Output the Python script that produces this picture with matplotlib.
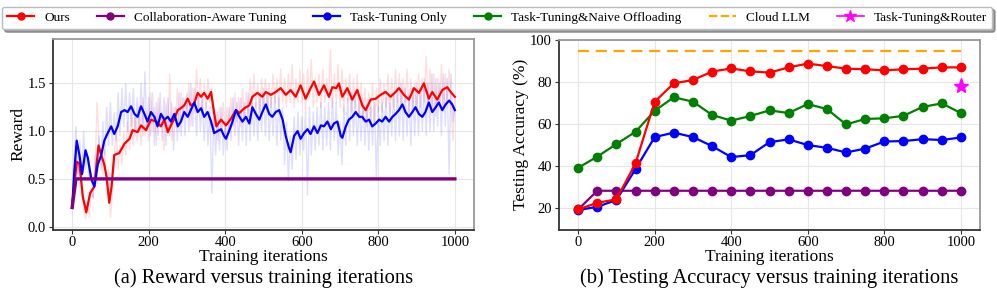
import numpy as np
import matplotlib
matplotlib.use("Agg")
import matplotlib.pyplot as plt
from matplotlib.lines import Line2D

plt.rcParams["font.family"] = ["Liberation Serif", "DejaVu Serif"]

# ---------------- (a) reward data ----------------
raw_x = list(range(0, 1001, 5))

ours_raw = [0.20, 0.45, 0.75, 0.55, 0.70, 0.40, 0.20, 0.08, 0.25, 0.10,
            0.40, 0.30, 0.55, 1.30, 0.90, 0.75, 0.55, 0.80, 0.45, 0.60,
            0.10, 0.35, 0.70, 1.05, 0.60, 0.85, 0.65, 1.00, 0.75, 1.10,
            0.80, 1.20, 0.85, 1.15, 0.90, 1.25, 0.85, 1.35, 0.95, 1.15,
            0.90, 1.40, 1.00, 1.25, 0.85, 1.35, 1.05, 1.20, 0.80, 1.30,
            0.95, 1.60, 0.90, 1.25, 1.10, 1.45, 1.00, 1.40, 1.15, 1.35,
            1.20, 1.50, 1.05, 1.45, 1.20, 1.65, 1.25, 1.55, 1.20, 1.50,
            1.25, 1.55, 1.30, 1.45, 0.95, 1.20, 0.90, 1.25, 1.00, 1.30,
            0.95, 1.25, 1.00, 1.35, 1.05, 1.40, 1.10, 1.35, 1.05, 1.45,
            1.10, 1.40, 1.15, 1.55, 1.20, 1.60, 1.25, 1.50, 1.20, 1.55,
            1.25, 1.55, 1.20, 1.50, 1.25, 1.60, 1.30, 1.55, 1.25, 1.65,
            1.30, 1.55, 1.25, 1.60, 1.30, 1.70, 1.25, 1.55, 1.30, 1.65,
            1.30, 1.60, 1.20, 1.65, 1.35, 1.75, 1.25, 1.55, 1.30, 1.60,
            1.25, 1.65, 1.30, 1.55, 1.35, 1.85, 1.25, 1.60, 1.30, 1.70,
            1.25, 1.65, 1.20, 1.55, 1.30, 1.60, 1.20, 1.55, 1.25, 1.60,
            1.15, 1.50, 1.10, 1.45, 1.05, 1.40, 1.15, 1.50, 1.10, 1.45,
            1.20, 1.55, 1.20, 1.50, 1.25, 1.60, 1.20, 1.55, 1.25, 1.65,
            1.30, 1.60, 1.25, 1.55, 1.30, 1.65, 1.20, 1.55, 1.25, 1.50,
            1.20, 1.60, 1.25, 1.55, 1.30, 1.78, 1.25, 1.65, 1.20, 1.60,
            1.15, 1.55, 1.25, 1.70, 1.20, 1.60, 1.30, 1.65, 1.25, 0.90,
            1.35]

task_raw = [0.20, 0.70, 1.05, 0.55, 0.90, 0.45, 1.00, 0.60, 0.75, 0.50,
            0.55, 0.30, 0.75, 0.45, 0.95, 0.60, 1.10, 0.75, 1.25, 0.85,
            1.30, 0.85, 1.20, 0.90, 1.40, 0.95, 1.45, 1.05, 1.50, 1.00,
            1.40, 1.05, 1.45, 0.95, 1.35, 1.00, 1.50, 0.95, 1.62, 1.00,
            1.35, 0.95, 1.40, 0.85, 1.30, 0.95, 1.40, 0.90, 1.35, 0.85,
            1.35, 0.95, 1.30, 0.80, 1.25, 0.90, 1.40, 0.95, 1.35, 0.95,
            1.40, 1.00, 1.50, 1.05, 1.45, 0.95, 1.40, 1.00, 1.35, 0.90,
            1.30, 0.85, 1.25, 0.35, 1.15, 0.75, 1.20, 0.80, 1.25, 0.75,
            1.10, 0.80, 1.25, 0.90, 1.35, 0.95, 1.30, 0.85, 1.35, 0.90,
            1.30, 0.85, 1.40, 0.90, 1.35, 0.95, 1.30, 0.90, 1.40, 1.00,
            1.45, 0.95, 1.40, 0.90, 1.35, 0.95, 1.40, 0.85, 1.35, 0.90,
            1.25, 0.65, 1.10, 0.48, 0.95, 0.60, 1.15, 0.70, 1.20, 0.75,
            1.15, 0.80, 1.20, 0.33, 1.25, 0.75, 1.20, 0.80, 1.25, 0.85,
            1.30, 0.80, 1.25, 0.85, 1.30, 0.80, 1.35, 0.90, 1.30, 0.75,
            1.10, 0.65, 1.25, 0.85, 1.35, 0.90, 1.40, 0.95, 1.35, 0.85,
            1.30, 0.90, 1.35, 0.85, 1.30, 0.80, 1.25, 0.85, 1.30, 0.50,
            1.25, 0.85, 1.30, 0.90, 1.35, 0.85, 1.30, 0.95, 1.40, 0.90,
            1.45, 0.95, 1.50, 0.90, 1.45, 0.95, 1.40, 0.85, 1.45, 0.95,
            1.50, 0.95, 1.45, 1.00, 1.55, 0.95, 1.50, 1.00, 1.60, 1.00,
            1.55, 1.05, 1.50, 0.95, 1.60, 1.05, 1.55, 0.55, 1.60, 1.10,
            1.25]

ours_smooth_x = [0, 12, 19, 28, 37, 47, 58, 69, 76, 84, 90, 97, 103, 110, 123, 137, 150,
                 158, 171, 180, 193, 206, 219, 232, 241, 250, 258, 267, 276, 284, 293,
                 302, 310, 319, 328, 337, 345, 354, 363, 371, 377, 389, 402, 415, 428,
                 437, 450, 463, 471, 484, 497, 506, 519, 532, 545, 558, 571, 584, 597,
                 610, 623, 632, 645, 658, 671, 680, 690, 697, 706, 719, 732, 745, 758,
                 767, 780, 793, 806, 819, 832, 845, 854, 867, 880, 893, 906, 919, 932,
                 941, 954, 967, 980, 989, 1000]
ours_smooth = [0.20, 0.68, 0.66, 0.31, 0.15, 0.35, 0.42, 0.85, 0.75, 0.65, 0.52, 0.25, 0.42,
               0.75, 0.77, 0.87, 0.92, 1.01, 0.99, 1.06, 1.01, 1.12, 1.10, 1.05, 1.12, 0.99,
               1.06, 1.13, 1.22, 1.24, 1.27, 1.34, 1.27, 1.29, 1.40, 1.36, 1.40, 1.34, 1.41,
               1.19, 1.05, 1.12, 1.06, 1.13, 1.22, 1.19, 1.24, 1.27, 1.36, 1.40, 1.36, 1.41,
               1.38, 1.41, 1.45, 1.38, 1.43, 1.36, 1.48, 1.34, 1.45, 1.52, 1.38, 1.48, 1.36,
               1.46, 1.45, 1.50, 1.36, 1.45, 1.33, 1.43, 1.27, 1.22, 1.33, 1.34, 1.38, 1.41,
               1.36, 1.41, 1.45, 1.38, 1.33, 1.45, 1.40, 1.50, 1.34, 1.41, 1.33, 1.43, 1.46,
               1.41, 1.36]

task_smooth_x = [0, 6, 12, 19, 26, 35, 41, 50, 58, 67, 76, 84, 93, 102, 110, 119, 128, 137,
                 145, 154, 163, 171, 180, 189, 197, 206, 215, 223, 232, 241, 250, 258, 267,
                 276, 284, 293, 302, 310, 319, 328, 337, 345, 354, 363, 371, 380, 389, 397,
                 402, 410, 419, 428, 437, 445, 454, 463, 471, 480, 489, 497, 506, 515, 523,
                 532, 541, 550, 558, 567, 571, 580, 589, 597, 606, 615, 623, 632, 641, 650,
                 658, 667, 676, 684, 693, 702, 706, 715, 723, 732, 741, 750, 758, 767, 776,
                 784, 793, 802, 810, 819, 828, 837, 845, 854, 863, 871, 880, 889, 897, 906,
                 915, 923, 932, 941, 950, 958, 967, 976, 985, 993, 1000]
task_smooth = [0.20, 0.60, 0.90, 0.75, 0.55, 0.80, 0.72, 0.50, 0.42, 0.65, 0.75, 0.90, 0.98,
               1.05, 0.97, 1.05, 1.20, 1.22, 1.20, 1.26, 1.18, 1.15, 1.26, 1.18, 1.10, 1.20,
               1.15, 1.05, 1.18, 1.12, 1.15, 1.10, 1.18, 1.05, 1.10, 1.20, 1.15, 1.22, 1.30,
               1.20, 1.24, 1.15, 1.20, 1.10, 0.98, 1.00, 1.02, 0.95, 0.92, 1.00, 1.10, 1.22,
               1.15, 1.10, 1.15, 1.08, 1.25, 1.18, 1.12, 1.20, 1.28, 1.18, 1.15, 1.20, 1.22,
               1.12, 0.95, 0.82, 0.78, 0.95, 1.00, 0.92, 0.98, 1.02, 0.97, 1.05, 0.98, 1.06,
               1.05, 1.10, 1.02, 1.08, 1.10, 0.95, 0.93, 1.05, 1.12, 1.15, 1.20, 1.15, 1.15,
               1.10, 1.12, 1.05, 1.08, 1.12, 1.10, 1.15, 1.10, 1.15, 1.18, 1.22, 1.28, 1.20,
               1.15, 1.20, 1.25, 1.18, 1.15, 1.20, 1.30, 1.20, 1.25, 1.30, 1.22, 1.28, 1.32,
               1.28, 1.22]

collab_reward_x = [0, 10, 1000]
collab_reward = [0.20, 0.50, 0.50]

# ---------------- (b) accuracy data ----------------
acc_x = list(range(0, 1001, 50))
acc_ours = [19.5, 22.7, 24.3, 41.4, 70.7, 79.4, 81.0, 85.0, 86.5, 85.1, 84.5,
            87.0, 88.8, 87.6, 86.4, 86.1, 85.6, 86.1, 86.4, 87.0, 87.0]
acc_collab = [19.5, 28.4, 28.4, 28.4, 28.4, 28.4, 28.4, 28.4, 28.4, 28.4, 28.4,
              28.4, 28.4, 28.4, 28.4, 28.4, 28.4, 28.4, 28.4, 28.4, 28.4]
acc_task = [19.2, 20.8, 24.0, 38.7, 53.9, 56.0, 53.9, 49.6, 44.4, 45.3, 51.5,
            52.8, 50.1, 48.8, 46.6, 48.4, 51.8, 52.0, 52.9, 52.5, 53.7]
acc_naive = [39.3, 44.6, 50.6, 56.4, 66.4, 72.8, 70.7, 64.4, 61.7, 63.9, 66.6,
             65.3, 69.6, 67.2, 59.9, 62.5, 62.8, 64.0, 68.2, 69.9, 65.3]
cloud_x = [0, 1000]
cloud_acc = [94.6, 94.6]
router_x = [1000]
router_acc = [78.3]

labels = ["Ours", "Collaboration-Aware Tuning", "Task-Tuning Only",
          "Task-Tuning&Naive Offloading", "Cloud LLM", "Task-Tuning&Router"]


def style_axes(ax):
    ax.grid(True, color="#e6e6e6", linewidth=0.8)
    ax.set_axisbelow(True)
    for s in ["top", "right"]:
        ax.spines[s].set_color("#999999")
        ax.spines[s].set_linewidth(1.3)
    for s in ["left", "bottom"]:
        ax.spines[s].set_color("#333333")
        ax.spines[s].set_linewidth(1.3)
    ax.tick_params(labelsize=10.5, length=3, pad=2, colors="#333333", labelcolor="black")


fig = plt.figure(figsize=(9.97, 2.95), dpi=100)
ax1 = fig.add_axes([53 / 997, 1 - 229.5 / 295, (474 - 53) / 997, (229.5 - 38.5) / 295])
ax2 = fig.add_axes([559 / 997, 1 - 229.5 / 295, (980 - 559) / 997, (229.5 - 40) / 295])

# (a)
ax1.plot(raw_x, ours_raw, color="red", alpha=0.13, linewidth=1)
ax1.plot(raw_x, task_raw, color="blue", alpha=0.13, linewidth=1)
ax1.plot(ours_smooth_x, ours_smooth, color="red", linewidth=1.6)
ax1.plot(task_smooth_x, task_smooth, color="blue", linewidth=1.6)
ax1.plot(collab_reward_x, collab_reward, color="purple", linewidth=2.4)
ax1.set_xlim(-50, 1050)
ax1.set_ylim(-0.03, 1.97)
ax1.set_xticks([0, 200, 400, 600, 800, 1000])
ax1.set_yticks([0.0, 0.5, 1.0, 1.5])
ax1.set_yticklabels(["0.0", "0.5", "1.0", "1.5"])
ax1.set_xlabel("Training iterations", fontsize=12.5, labelpad=0)
ax1.set_ylabel("Reward", fontsize=12.5, labelpad=1)
style_axes(ax1)

# (b)
ax2.plot(cloud_x, cloud_acc, color="orange", linestyle="--", linewidth=1.6, dashes=(5, 3))
ax2.plot(acc_x, acc_collab, color="purple", marker="o", markersize=6, linewidth=1.6)
ax2.plot(acc_x, acc_naive, color="green", marker="o", markersize=6, linewidth=1.6)
ax2.plot(acc_x, acc_task, color="blue", marker="o", markersize=6, linewidth=1.6)
ax2.plot(acc_x, acc_ours, color="red", marker="o", markersize=6, linewidth=1.6)
ax2.plot(router_x, router_acc, color="magenta", marker="*", markersize=11, linestyle="none")
ax2.set_xlim(-50, 1050)
ax2.set_ylim(10, 100)
ax2.set_xticks([0, 200, 400, 600, 800, 1000])
ax2.set_yticks([20, 40, 60, 80, 100])
ax2.set_xlabel("Training iterations", fontsize=12.5, labelpad=0)
ax2.set_ylabel("Testing Accuracy (%)", fontsize=12.5, labelpad=1)
style_axes(ax2)

fig.text((53 + 474) / 2 / 997, 1 - 283 / 295, "(a) Reward versus training iterations",
         ha="center", va="baseline", fontsize=14.8)
fig.text((559 + 980) / 2 / 997, 1 - 283 / 295, "(b) Testing Accuracy versus training iterations",
         ha="center", va="baseline", fontsize=14.8)

handles = [
    Line2D([], [], color="red", marker="o", markersize=5, linewidth=1.6),
    Line2D([], [], color="purple", marker="o", markersize=5, linewidth=1.6),
    Line2D([], [], color="blue", marker="o", markersize=5, linewidth=1.6),
    Line2D([], [], color="green", marker="o", markersize=5, linewidth=1.6),
    Line2D([], [], color="orange", linestyle="--", linewidth=1.6),
    Line2D([], [], color="magenta", marker="*", markersize=9, linewidth=1.2),
]
fig.legend(handles, labels, loc="upper center", bbox_to_anchor=(0.4985, 1.0), ncol=6,
           fontsize=9.5, frameon=True, shadow=True, fancybox=True, handlelength=2.05,
           columnspacing=2.05, handletextpad=0.76, borderpad=0.4, edgecolor="#bbbbbb")

fig.savefig("out.png", dpi=100)
